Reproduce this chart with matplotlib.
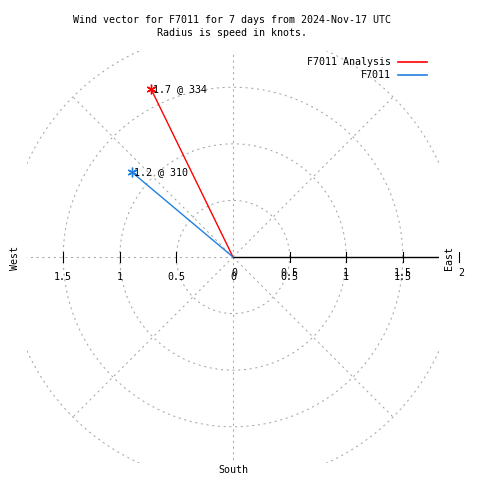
import numpy as np
import matplotlib
matplotlib.use('Agg')
import matplotlib.pyplot as plt

# wind vectors (speed in knots, direction in degrees)
names = ['F7011 Analysis', 'F7011']
speeds = [1.65, 1.17]
directions = [334, 310]
point_labels = ['1.7 @ 334', '1.2 @ 310']
colors = ['#ff0000', '#2080e0']

rings = [0.5, 1.0, 1.5, 2.0]
spokes = [0, 45, 90, 135, 180, 225, 270, 315]
tick_vals = [0.5, 1.0, 1.5]
tick_text = ['0.5', '1', '1.5']

plt.rcParams['font.family'] = 'DejaVu Sans Mono'
fs = 7.2
grid_col = '#a8a8a8'
dash = (0, (2, 3.5))

fig = plt.figure(figsize=(4.8, 4.8), dpi=100)
ax = fig.add_axes([27/480, 17/480, 412/480, 412/480])
ax.set_xlim(-1.82, 1.82)
ax.set_ylim(-1.82, 1.82)
ax.axis('off')

# polar grid
th = np.linspace(0, 2*np.pi, 400)
for r in rings:
    ax.plot(r*np.cos(th), r*np.sin(th), color=grid_col, lw=0.75, ls=dash)
for a in spokes:
    if a == 0:
        continue
    ax.plot([0, 2*np.cos(np.radians(a))], [0, 2*np.sin(np.radians(a))],
            color=grid_col, lw=0.75, ls=dash)

# horizontal axis
ax.plot([0, 1.82], [0, 0], color='black', lw=1)
for v in tick_vals:
    for s in (-1, 1):
        ax.plot([s*v, s*v], [-0.04, 0.04], color='black', lw=0.8)
ax.plot([2, 2], [-0.04, 0.04], color='black', lw=0.8, clip_on=False)

for v, t in zip(tick_vals, tick_text):
    ax.text(-v, -0.175, t, ha='center', va='center', fontsize=fs)
    # right side labels are printed twice, slightly offset, as in the original
    ax.text(v, -0.175, t, ha='center', va='center', fontsize=fs)
    ax.text(v, -0.145, t, ha='center', va='center', fontsize=fs)
ax.text(0, -0.175, '0', ha='center', va='center', fontsize=fs)
ax.text(0.01, -0.145, '0', ha='center', va='center', fontsize=fs)
ax.text(2.02, -0.14, '2', ha='center', va='center', fontsize=fs, clip_on=False)

# vectors
for s, d, lab, c, n in zip(speeds, directions, point_labels, colors, names):
    x = s*np.sin(np.radians(d))
    y = s*np.cos(np.radians(d))
    ax.plot([0, x], [0, y], color=c, lw=1, label=n)
    ax.plot(x, y, marker=(6, 2, 0), color=c, ms=7, mew=1)
    ax.text(x + 0.02, y, lab, ha='left', va='center', fontsize=fs)

# compass labels
fig.text(449/480, 1 - 258/480, 'East', rotation=90, ha='center', va='center', fontsize=fs)
fig.text(15/480, 1 - 258/480, 'West', rotation=90, ha='center', va='center', fontsize=fs)
fig.text(233/480, 1 - 470/480, 'South', ha='center', va='center', fontsize=fs)

# legend
for i, (n, c) in enumerate(zip(names, colors)):
    yy = 1 - (62 + 13*i)/480
    fig.text(391/480, yy, n, ha='right', va='center', fontsize=fs)
    fig.add_artist(plt.Line2D([398/480, 427/480], [yy, yy], color=c, lw=1.2,
                              transform=fig.transFigure))

fig.text(232/480, 1 - 20/480, 'Wind vector for F7011 for 7 days from 2024-Nov-17 UTC',
         ha='center', va='center', fontsize=fs)
fig.text(232/480, 1 - 33/480, 'Radius is speed in knots.',
         ha='center', va='center', fontsize=fs)

fig.savefig('out.png', dpi=100)
